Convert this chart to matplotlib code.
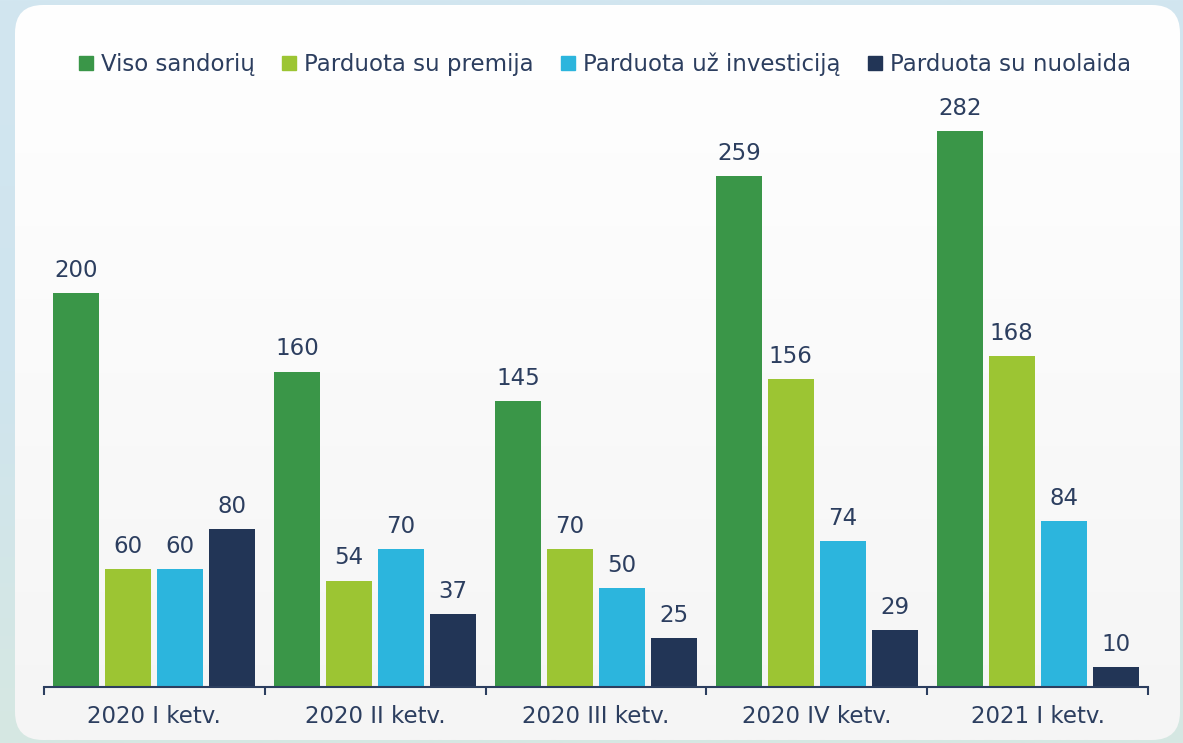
import numpy as np
import matplotlib
matplotlib.use("Agg")
import matplotlib.pyplot as plt
from matplotlib.patches import FancyBboxPatch
from matplotlib.lines import Line2D
from matplotlib.colors import LinearSegmentedColormap

categories = ["2020 I ketv.", "2020 II ketv.", "2020 III ketv.", "2020 IV ketv.", "2021 I ketv."]
series_names = ["Viso sandorių", "Parduota su premija", "Parduota už investiciją", "Parduota su nuolaida"]
viso = [200, 160, 145, 259, 282]
premija = [60, 54, 70, 156, 168]
investicija = [60, 70, 50, 74, 84]
nuolaida = [80, 37, 25, 29, 10]
colors = ["#3a9648", "#9cc533", "#2cb5dd", "#223556"]
text_color = "#2c3e5f"

plt.rcParams['font.family'] = ['DejaVu Sans']

W, H = 1183, 743
fig = plt.figure(figsize=(W / 100, H / 100), dpi=100)
fig.patch.set_facecolor("#cfe4ee")

# background card with gradient
bg_ax = fig.add_axes([0, 0, 1, 1])
bg_ax.set_xlim(0, W)
bg_ax.set_ylim(0, H)
bg_ax.axis("off")
bg_grad = np.linspace(0, 1, 256).reshape(-1, 1)
bg_cmap = LinearSegmentedColormap.from_list("b", ["#d6e8e2", "#cfe4ee", "#d2e6f0"])
bg_ax.imshow(bg_grad, cmap=bg_cmap, extent=[0, W, 0, H], origin="lower", aspect="auto")
card = FancyBboxPatch((15, 3), 1165, 735, boxstyle="round,pad=0,rounding_size=28",
                      facecolor="none", edgecolor="none", transform=bg_ax.transData)
bg_ax.add_patch(card)
grad = np.linspace(0, 1, 256).reshape(-1, 1)
cmap = LinearSegmentedColormap.from_list("g", ["#f5f5f5", "#ffffff"])
im = bg_ax.imshow(grad, cmap=cmap, extent=[15, 1180, 3, 738], origin="lower", aspect="auto")
im.set_clip_path(card)

# main axes
left = 44 / W
right = 1148 / W
bottom = 56 / H
top_px = 100
ax = fig.add_axes([left, bottom, right - left, (H - top_px - 56) / H])
ax.patch.set_alpha(0)
ppu = 556 / 282.0
ax.set_ylim(0, (H - top_px - 56) / ppu)
ax.set_xlim(-0.5, len(categories) - 0.5)

data = [viso, premija, investicija, nuolaida]
bw = 46 / 221
step = 52 / 221
x = np.arange(len(categories))
for i, (vals, c) in enumerate(zip(data, colors)):
    pos = x + (i - 1.5) * step
    ax.bar(pos, vals, width=bw, color=c, zorder=2)
    for p, v in zip(pos, vals):
        ax.annotate(str(v), (p, v), xytext=(0, 8), textcoords="offset points",
                    ha="center", va="bottom", fontsize=16.5, color=text_color)

for s in ["top", "right", "left"]:
    ax.spines[s].set_visible(False)
ax.spines["bottom"].set_color(text_color)
ax.spines["bottom"].set_linewidth(1.5)
ax.set_yticks([])
ax.set_xticks(np.arange(len(categories) + 1) - 0.5)
ax.set_xticklabels([])
ax.tick_params(axis="x", which="major", length=6, width=1.5, color=text_color, direction="out")
ax.set_xticks(x, minor=True)
ax.set_xticklabels(categories, minor=True, fontsize=16.5, color=text_color)
ax.tick_params(axis="x", which="minor", length=0, pad=13)

handles = [Line2D([], [], marker="s", linestyle="none", markersize=10.5, color=c) for c in colors]
leg = fig.legend(handles, series_names, loc="center", bbox_to_anchor=(604 / W, 1 - 64 / H),
                 ncol=4, frameon=False, fontsize=16.5, handlelength=0.8, handletextpad=0.25,
                 columnspacing=1.1, labelcolor=text_color)

fig.savefig("out.png", dpi=100, facecolor=fig.get_facecolor())
